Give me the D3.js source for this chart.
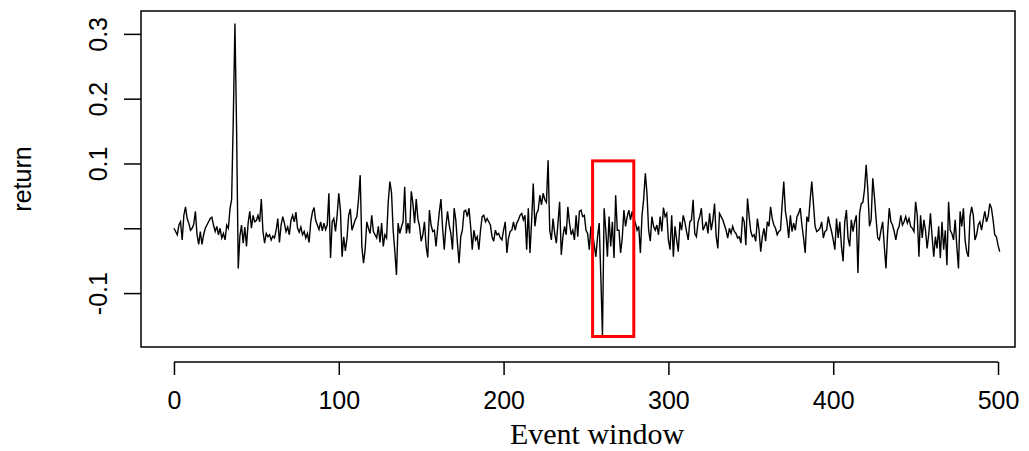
<!DOCTYPE html>
<html>
<head>
<meta charset="utf-8">
<script src="https://cdn.jsdelivr.net/npm/d3@7"></script>
<style>
  body { margin: 0; background: #fff; }
  svg text { fill: #000; }
  .tick-label { font-family: "Liberation Sans", Arial, sans-serif; font-size: 25px; }
  .y-title { font-family: "Liberation Sans", Arial, sans-serif; font-size: 25px; }
  .x-title { font-family: "Liberation Serif", "Times New Roman", serif; font-size: 30px; }
</style>
</head>
<body>
<div id="chart"></div>
<script>
// daily returns across the event window
var returns = [
  0.000, -0.005, -0.010, 0.005, 0.010, -0.018, 0.020, 0.033, 0.015, 0.008,
  -0.003, 0.000, 0.006, 0.026, -0.010, -0.025, -0.005, -0.025, -0.010, 0.000,
  0.005, 0.010, 0.015, 0.017, 0.005, -0.005, 0.003, -0.010, 0.000, -0.015,
  -0.008, -0.018, 0.005, 0.000, 0.030, 0.045, 0.170, 0.316, 0.152, -0.062,
  -0.012, 0.005, -0.023, 0.002, -0.028, 0.008, 0.026, 0.000, 0.020, 0.010,
  0.012, 0.020, 0.010, 0.045, -0.005, -0.023, -0.008, -0.013, -0.010, -0.018,
  -0.012, -0.015, -0.003, 0.015, -0.022, 0.005, 0.018, 0.008, -0.005, 0.002,
  -0.010, 0.012, 0.020, 0.010, 0.025, 0.000, -0.006, 0.002, -0.010, -0.005,
  -0.015, -0.008, -0.022, 0.010, 0.025, 0.032, 0.012, 0.005, -0.002, 0.010,
  -0.004, 0.008, -0.002, 0.005, 0.054, -0.046, 0.010, 0.015, -0.005, 0.020,
  0.054, 0.028, -0.044, -0.013, -0.035, -0.015, 0.020, 0.030, -0.003, 0.005,
  0.013, 0.018, 0.045, 0.082, -0.028, -0.054, -0.033, 0.010, 0.000, -0.008,
  0.020, -0.005, -0.010, -0.015, 0.003, -0.022, 0.008, -0.028, -0.010, -0.015,
  0.040, 0.072, 0.055, -0.003, -0.035, -0.072, 0.008, -0.008, 0.002, 0.010,
  0.064, -0.008, 0.008, -0.008, 0.057, 0.038, 0.008, 0.045, 0.015, 0.003,
  -0.020, -0.010, 0.010, -0.028, -0.045, 0.028, 0.005, -0.005, -0.003, -0.028,
  0.000, 0.025, 0.045, 0.000, -0.033, 0.003, 0.026, 0.005, -0.008, -0.033,
  0.031, 0.013, -0.023, -0.054, -0.013, -0.003, 0.026, 0.028, 0.018, 0.031,
  0.003, -0.033, -0.003, -0.018, -0.013, -0.033, -0.003, 0.018, 0.020, 0.010,
  0.015, 0.010, 0.005, -0.013, -0.020, -0.003, -0.010, -0.008, -0.015, -0.018,
  -0.003, 0.010, -0.038, -0.015, -0.005, -0.003, 0.010, -0.003, 0.008, 0.013,
  0.020, 0.023, 0.013, 0.020, -0.033, 0.031, -0.038, 0.010, 0.069, 0.003,
  0.023, 0.028, 0.051, 0.036, 0.054, 0.044, 0.040, 0.105, -0.003, -0.018,
  0.015, -0.008, -0.023, 0.008, 0.041, -0.041, -0.013, 0.003, -0.010, 0.033,
  0.008, -0.010, -0.003, -0.018, 0.020, -0.013, 0.026, 0.028, 0.018, 0.020,
  -0.003, -0.008, -0.033, 0.003, -0.008, -0.026, -0.044, -0.013, 0.008, -0.075,
  -0.165, 0.031, -0.003, -0.044, 0.018, -0.028, 0.010, -0.046, 0.051, -0.003,
  -0.003, -0.038, -0.015, 0.028, 0.003, 0.018, 0.028, 0.013, 0.026, 0.015,
  0.008, -0.003, 0.003, -0.038, 0.020, 0.045, 0.085, 0.054, -0.003, -0.020,
  0.018, 0.003, -0.003, 0.005, -0.010, 0.018, -0.005, 0.032, 0.018, 0.023,
  -0.018, -0.033, 0.020, -0.044, 0.003, -0.018, -0.036, 0.010, -0.003, 0.020,
  0.010, -0.005, -0.018, 0.010, 0.013, 0.044, -0.008, -0.013, 0.010, 0.018,
  0.031, -0.003, 0.003, 0.010, -0.008, 0.023, -0.003, 0.013, 0.038, -0.013,
  -0.031, 0.023, 0.018, 0.013, 0.005, -0.003, -0.015, 0.000, -0.008, 0.003,
  -0.005, -0.008, -0.015, -0.013, -0.023, 0.018, 0.010, -0.026, 0.046, 0.018,
  -0.005, -0.013, -0.010, -0.020, 0.015, -0.003, -0.036, -0.013, 0.000, -0.020,
  0.010, 0.003, 0.033, 0.015, 0.005, 0.000, -0.010, -0.005, -0.003, 0.036,
  0.072, 0.026, 0.010, -0.015, 0.020, -0.005, 0.008, -0.003, 0.018, 0.023,
  0.031, 0.005, -0.015, -0.038, 0.018, 0.010, 0.044, 0.072, 0.038, 0.003,
  -0.005, -0.003, 0.000, 0.010, -0.015, -0.005, -0.003, 0.018, 0.005, -0.005,
  -0.018, -0.033, 0.015, -0.015, 0.010, -0.028, -0.051, 0.010, 0.028, -0.015,
  -0.028, 0.013, -0.005, 0.010, 0.020, -0.069, 0.023, 0.038, 0.040, 0.060,
  0.098, 0.059, 0.003, 0.013, 0.077, 0.049, 0.015, -0.015, -0.018, -0.003,
  0.010, -0.028, -0.062, -0.008, 0.031, 0.010, 0.005, -0.005, -0.018, -0.003,
  0.003, 0.020, 0.005, 0.010, 0.018, 0.008, 0.015, 0.003, 0.000, -0.005,
  0.041, 0.020, -0.044, 0.020, -0.015, 0.013, -0.003, -0.031, -0.008, 0.023,
  -0.013, -0.044, -0.013, -0.031, 0.003, -0.046, 0.010, -0.033, -0.003, -0.057,
  0.041, -0.003, -0.008, -0.018, 0.013, -0.028, -0.062, 0.026, 0.003, 0.031,
  -0.018, -0.036, -0.044, 0.018, 0.033, 0.020, -0.018, -0.010, 0.005, 0.010,
  -0.003, 0.013, 0.026, 0.010, 0.018, 0.038, 0.031, 0.013, -0.010, -0.013,
  -0.026, -0.036
];

var xTicks = [0, 100, 200, 300, 400, 500];
var yTicks = [-0.1, 0, 0.1, 0.2, 0.3];
var yTickLabels = ["-0.1", "", "0.1", "0.2", "0.3"];

// highlighted event window (index range, return range)
var eventWindow = [254, 279];
var eventRange = [-0.167, 0.104];

var width = 1029, height = 451;
var box = {left: 141, right: 1015, top: 11, bottom: 347};

var svg = d3.select("#chart").append("svg")
    .attr("width", width)
    .attr("height", height);

var x = d3.scaleLinear()
    .domain([-20, 510.3])
    .range([box.left, box.right]);

var y = d3.scaleLinear()
    .domain([-0.1832, 0.3353])
    .range([box.bottom, box.top]);

// the series
var line = d3.line()
    .x(function (d, i) { return x(i); })
    .y(function (d) { return y(d); });

svg.append("path")
    .datum(returns)
    .attr("fill", "none")
    .attr("stroke", "#000")
    .attr("stroke-width", 1.4)
    .attr("stroke-linejoin", "miter")
    .attr("d", line);

// plot frame
svg.append("rect")
    .attr("x", box.left)
    .attr("y", box.top)
    .attr("width", box.right - box.left)
    .attr("height", box.bottom - box.top)
    .attr("fill", "none")
    .attr("stroke", "#000")
    .attr("stroke-width", 1.5);

// y axis, labels turned like R does
var gy = svg.append("g")
    .attr("transform", "translate(" + box.left + ",0)")
    .call(d3.axisLeft(y)
        .tickValues(yTicks)
        .tickSize(17)
        .tickSizeOuter(0)
        .tickFormat(function (d, i) { return yTickLabels[i]; }));
gy.select(".domain").remove();
gy.selectAll(".tick line").attr("stroke", "#000").attr("stroke-width", 1.5);
gy.selectAll(".tick text")
    .attr("class", "tick-label")
    .attr("x", null).attr("dy", null)
    .attr("text-anchor", "middle")
    .attr("transform", "translate(-43,0) rotate(-90)")
    .attr("y", 0)
    .attr("dominant-baseline", "central");

// x axis sits below the frame, line only spans the ticks
var axisY = 362;
var gx = svg.append("g")
    .attr("transform", "translate(0," + axisY + ")")
    .call(d3.axisBottom(x)
        .tickValues(xTicks)
        .tickSize(13)
        .tickSizeOuter(0));
gx.select(".domain").remove();
gx.append("line")
    .attr("x1", x(xTicks[0]))
    .attr("x2", x(xTicks[xTicks.length - 1]))
    .attr("stroke", "#000")
    .attr("stroke-width", 1.5);
gx.selectAll(".tick line").attr("stroke", "#000").attr("stroke-width", 1.5);
gx.selectAll(".tick text")
    .attr("class", "tick-label")
    .attr("y", 47)
    .attr("dy", null);

svg.append("text")
    .attr("class", "x-title")
    .attr("x", 597)
    .attr("y", 444)
    .attr("text-anchor", "middle")
    .text("Event window");

svg.append("text")
    .attr("class", "y-title")
    .attr("transform", "translate(31," + ((box.top + box.bottom) / 2) + ") rotate(-90)")
    .attr("text-anchor", "middle")
    .text("return");

// red box around the event day
svg.append("rect")
    .attr("x", x(eventWindow[0]))
    .attr("y", y(eventRange[1]))
    .attr("width", x(eventWindow[1]) - x(eventWindow[0]))
    .attr("height", y(eventRange[0]) - y(eventRange[1]))
    .attr("fill", "none")
    .attr("stroke", "#ff0000")
    .attr("stroke-width", 3);
</script>
</body>
</html>
